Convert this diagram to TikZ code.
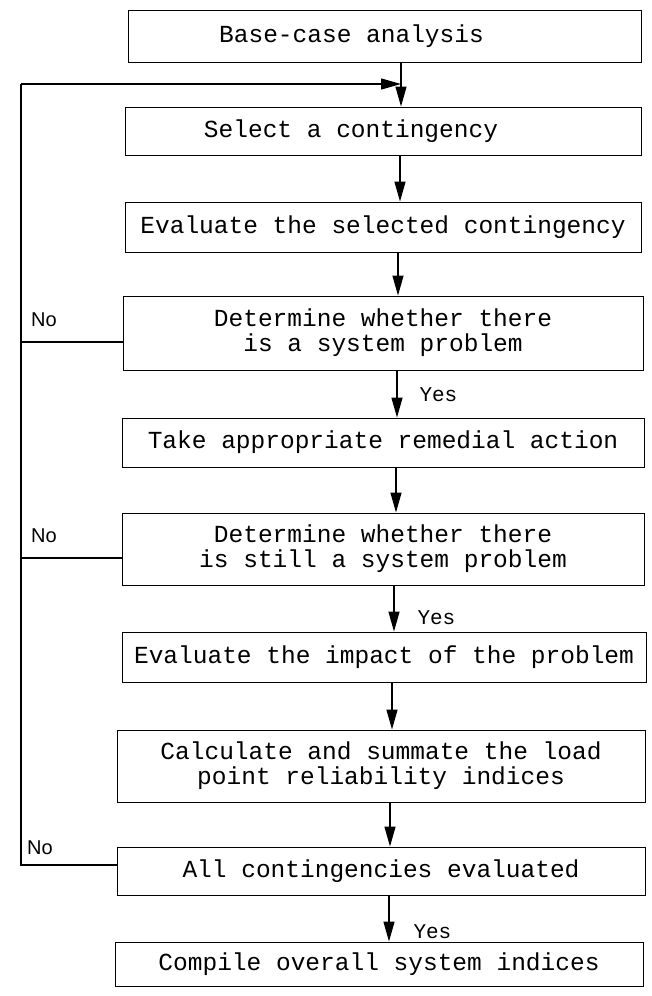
\documentclass[tikz,border=0pt]{standalone}
\usepackage{fontspec}
\setmonofont{Liberation Mono}
\newfontfamily\labfont{Liberation Sans}
\usetikzlibrary{arrows.meta}
\begin{document}
\begin{tikzpicture}[x=1pt,y=-1pt,
  box/.style={draw, line width=0.9pt, rectangle, inner sep=0pt, align=center,
    font=\ttfamily\fontsize{24.5}{25}\selectfont},
  arr/.style={line width=1.3pt, -{Triangle[length=20pt,width=11pt]}},
  conn/.style={line width=1.1pt},
  yeslab/.style={font=\ttfamily\fontsize{21}{21}\selectfont, anchor=west},
  nolab/.style={font=\labfont\fontsize{20}{20}\selectfont}]
\useasboundingbox (0,0) rectangle (652,996);

\node[box, minimum width=513pt, minimum height=52pt] (b1) at (384.5,36) {Base-case analysis\hspace*{66pt}};
\node[box, minimum width=516pt, minimum height=48pt] (b2) at (383,131) {Select a contingency\hspace*{64pt}};
\node[box, minimum width=516pt, minimum height=50pt] (b3) at (383,227) {Evaluate the selected contingency};
\node[box, minimum width=520pt, minimum height=74pt] (b4) at (383,333) {Determine whether there\\is a system problem};
\node[box, minimum width=522pt, minimum height=49pt] (b5) at (383,442.5) {Take appropriate remedial action};
\node[box, minimum width=522pt, minimum height=72pt] (b6) at (383,549) {Determine whether there\\is still a system problem};
\node[box, minimum width=524pt, minimum height=50pt] (b7) at (384,657) {Evaluate the impact of the problem};
\node[box, minimum width=528pt, minimum height=72pt] (b8) at (381,766) {Calculate and summate the load\\point reliability indices};
\node[box, minimum width=528pt, minimum height=48pt] (b9) at (381,871) {All contingencies evaluated};
\node[box, minimum width=528pt, minimum height=44pt] (b10) at (379,964) {Compile overall system indices};

\coordinate (lx) at (21,0);
\coordinate (top) at (21,84);
\coordinate (join) at (401,84);

\draw[arr] (b1.south -| 401,0) -- (b2.north -| 401,0);
\draw[arr] (b2.south -| 400,0) -- (b3.north -| 400,0);
\draw[arr] (b3.south -| 398,0) -- (b4.north -| 398,0);
\draw[arr] (b4.south -| 397,0) -- (b5.north -| 397,0);
\draw[arr] (b5.south -| 396,0) -- (b6.north -| 396,0);
\draw[arr] (b6.south -| 394,0) -- (b7.north -| 394,0);
\draw[arr] (b7.south -| 392,0) -- (b8.north -| 392,0);
\draw[arr] (b8.south -| 390,0) -- (b9.north -| 390,0);
\draw[arr] (b9.south -| 389,0) -- (b10.north -| 389,0);

\draw[conn] ([yshift=-9pt]b4.west) -- ([yshift=-9pt]b4.west -| lx);
\draw[conn] ([yshift=-9pt]b6.west) -- ([yshift=-9pt]b6.west -| lx);
\draw[conn] ([yshift=6pt]b9.west) -- ([yshift=6pt]b9.west -| lx) -- (top);
\draw[arr] (top) -- (join);

\node[yeslab] (y1) at (416,395) {Yes};
\node[yeslab] (y2) at (414,618) {Yes};
\node[yeslab] (y3) at (410,932) {Yes};
\node[nolab] (n1) at (44,320) {No};
\node[nolab] (n2) at (44,536) {No};
\node[nolab] (n3) at (40,848) {No};
\end{tikzpicture}
\end{document}
